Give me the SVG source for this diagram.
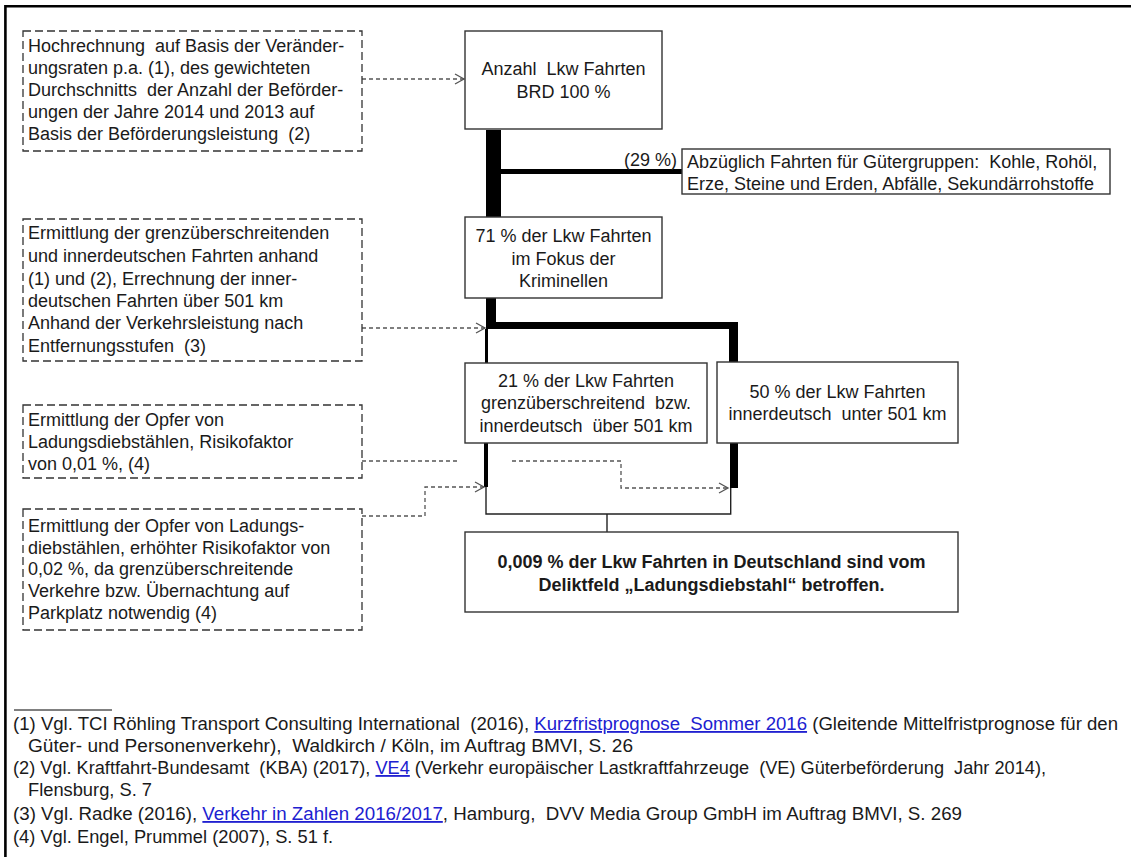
<svg xmlns="http://www.w3.org/2000/svg" width="1131" height="857" viewBox="0 0 1131 857">
<style>
text{font-family:"Liberation Sans",Arial,sans-serif;font-size:18px;fill:#1a1a1a;white-space:pre}
.c{text-anchor:middle}
.b{font-weight:bold}
.fn{font-size:18.3px}
.lnk{fill:#2020d0;text-decoration:underline}
.node{fill:#fff;stroke:#333;stroke-width:1.4}
.note{fill:#fff;stroke:#333;stroke-width:1.3;stroke-dasharray:8 4}
.dash{fill:none;stroke:#555;stroke-width:1.3;stroke-dasharray:4 3}
.thin{fill:none;stroke:#222;stroke-width:1.4}
.thick{fill:#000}
</style>
<defs>
<marker id="ah" markerWidth="12" markerHeight="12" refX="10" refY="6" orient="auto" markerUnits="userSpaceOnUse">
<path d="M1,1 L10,6 L1,11" fill="none" stroke="#555" stroke-width="1.3"/>
</marker>
</defs>
<rect width="1131" height="857" fill="#fff"/>
<path d="M5.4,857 V6.2 H1131" fill="none" stroke="#000" stroke-width="2.6"/>

<g id="connectors">
<rect class="thick" x="486" y="130" width="15" height="87"/>
<rect class="thick" x="501" y="169" width="181" height="5"/>
<rect class="thick" x="486" y="298" width="10" height="31"/>
<rect class="thick" x="486" y="322" width="252" height="7"/>
<rect class="thick" x="729" y="322" width="9" height="40"/>
<rect class="thick" x="485" y="329" width="3" height="34"/>
<rect class="thick" x="484" y="443" width="4" height="44"/>
<rect class="thick" x="730" y="443" width="8" height="45"/>
<path class="thin" d="M486,487 V514 H730.7 V488"/>
<path class="thin" d="M607,514 V532"/>
<path class="dash" d="M362,79 H464" marker-end="url(#ah)"/>
<path class="dash" d="M362,328 H485" marker-end="url(#ah)"/>
<path class="dash" d="M362,461 H458"/>
<path class="dash" d="M512,461 H621 V488 H728" marker-end="url(#ah)"/>
<path class="dash" d="M362,516 H425 V487 H484" marker-end="url(#ah)"/>
</g>

<g id="note1">
<rect class="note" x="23" y="31" width="339" height="120"/>
<text x="28" y="52">Hochrechnung  auf Basis der Veränder-</text>
<text x="28" y="74">ungsraten p.a. (1), des gewichteten</text>
<text x="28" y="96">Durchschnitts  der Anzahl der Beförder-</text>
<text x="28" y="118">ungen der Jahre 2014 und 2013 auf</text>
<text x="28" y="140">Basis der Beförderungsleistung  (2)</text>
</g>

<g id="note2">
<rect class="note" x="23" y="219" width="339" height="142"/>
<text x="28" y="239">Ermittlung der grenzüberschreitenden</text>
<text x="28" y="262">und innerdeutschen Fahrten anhand</text>
<text x="28" y="285">(1) und (2), Errechnung der inner-</text>
<text x="28" y="307">deutschen Fahrten über 501 km</text>
<text x="28" y="329">Anhand der Verkehrsleistung nach</text>
<text x="28" y="352">Entfernungsstufen  (3)</text>
</g>

<g id="note3">
<rect class="note" x="23" y="405" width="339" height="73"/>
<text x="28" y="426">Ermittlung der Opfer von</text>
<text x="28" y="448">Ladungsdiebstählen, Risikofaktor</text>
<text x="28" y="470">von 0,01 %, (4)</text>
</g>

<g id="note4">
<rect class="note" x="23" y="509" width="339" height="121"/>
<text x="28" y="532">Ermittlung der Opfer von Ladungs-</text>
<text x="28" y="554">diebstählen, erhöhter Risikofaktor von</text>
<text x="28" y="575">0,02 %, da grenzüberschreitende</text>
<text x="28" y="597">Verkehre bzw. Übernachtung auf</text>
<text x="28" y="619">Parkplatz notwendig (4)</text>
</g>

<g id="n-anzahl">
<rect class="node" x="465" y="31" width="197" height="98"/>
<text class="c" x="563.5" y="75">Anzahl  Lkw Fahrten</text>
<text class="c" x="563.5" y="98">BRD 100 %</text>
</g>

<g id="n-abzueglich">
<text x="677" y="166" text-anchor="end">(29 %)</text>
<rect class="node" x="682" y="149" width="428" height="45"/>
<text x="687" y="168">Abzüglich Fahrten für Gütergruppen:  Kohle, Rohöl,</text>
<text x="687" y="190">Erze, Steine und Erden, Abfälle, Sekundärrohstoffe</text>
</g>

<g id="n-71">
<rect class="node" x="465" y="217" width="197" height="81"/>
<text class="c" x="563.5" y="242">71 % der Lkw Fahrten</text>
<text class="c" x="563.5" y="265">im Fokus der</text>
<text class="c" x="563.5" y="287">Kriminellen</text>
</g>

<g id="n-21">
<rect class="node" x="465" y="363" width="242" height="80"/>
<text class="c" x="586" y="387">21 % der Lkw Fahrten</text>
<text class="c" x="586" y="409">grenzüberschreitend  bzw.</text>
<text class="c" x="586" y="432">innerdeutsch  über 501 km</text>
</g>

<g id="n-50">
<rect class="node" x="717" y="362" width="241" height="81"/>
<text class="c" x="837.5" y="398">50 % der Lkw Fahrten</text>
<text class="c" x="837.5" y="420">innerdeutsch  unter 501 km</text>
</g>

<g id="n-result">
<rect class="node" x="465" y="532" width="493" height="80"/>
<text class="c b" x="711.5" y="568">0,009 % der Lkw Fahrten in Deutschland sind vom</text>
<text class="c b" x="711.5" y="591">Deliktfeld „Ladungsdiebstahl“ betroffen.</text>
</g>

<g id="footnotes">
<path d="M14,710 H112" stroke="#000" stroke-width="1"/>
<text class="fn" x="13" y="730" textLength="1105" lengthAdjust="spacingAndGlyphs">(1) Vgl. TCI Röhling Transport Consulting International  (2016), <tspan class="lnk">Kurzfristprognose  Sommer 2016</tspan> (Gleitende Mittelfristprognose für den</text>
<text class="fn" x="28" y="752" textLength="605" lengthAdjust="spacingAndGlyphs">Güter- und Personenverkehr),  Waldkirch / Köln, im Auftrag BMVI, S. 26</text>
<text class="fn" x="13" y="774" textLength="1033" lengthAdjust="spacingAndGlyphs">(2) Vgl. Kraftfahrt-Bundesamt  (KBA) (2017), <tspan class="lnk">VE4</tspan> (Verkehr europäischer Lastkraftfahrzeuge  (VE) Güterbeförderung  Jahr 2014),</text>
<text class="fn" x="28" y="796">Flensburg, S. 7</text>
<text class="fn" x="13" y="820" textLength="949" lengthAdjust="spacingAndGlyphs">(3) Vgl. Radke (2016), <tspan class="lnk">Verkehr in Zahlen 2016/2017</tspan>, Hamburg,  DVV Media Group GmbH im Auftrag BMVI, S. 269</text>
<text class="fn" x="13" y="843">(4) Vgl. Engel, Prummel (2007), S. 51 f.</text>
</g>
</svg>
